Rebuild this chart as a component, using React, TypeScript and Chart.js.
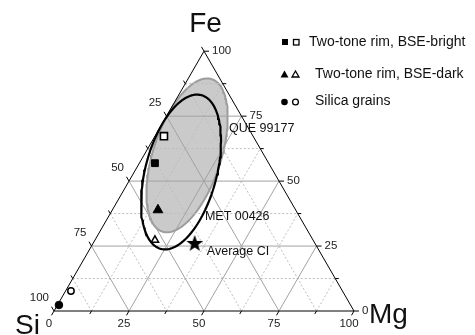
import React, { useEffect, useRef } from 'react';
import { Chart, registerables } from 'chart.js';

Chart.register(...registerables);

const SQ = Math.sqrt(3) / 2;

// Axis tick values (percent)
const MAJOR_TICKS = [0, 25, 50, 75, 100];
const MINOR_TICKS = [12.5, 37.5, 62.5, 87.5];
const TICK_LABELS = ['0', '25', '50', '75', '100'];
const GRID_SOLID = [25, 50, 75];
const GRID_DOTTED = [12.5, 37.5, 62.5, 87.5];

// Compositions: [Fe, Mg, Si] in %
const BRIGHT_FILLED = [[56.9, 5.2, 37.9]];
const BRIGHT_OPEN = [[67.3, 3.0, 29.7]];
const DARK_FILLED = [[38.9, 15.2, 45.9]];
const DARK_OPEN = [[27.3, 20.0, 52.7]];
const SILICA_FILLED = [[2.3, 0.5, 97.2]];
const SILICA_OPEN = [[7.7, 1.8, 90.5]];
const AVERAGE_CI = [[26.2, 33.8, 40.0]];

// Compositional fields: [centre Fe, centre Mg, semi-major, semi-minor, tilt deg]
const QUE_ELLIPSE = [59.9, 14.4, 26.7, 11.3, 72];
const MET_ELLIPSE = [53.5, 15.6, 26.5, 11.9, 75.3];

const ANNOT_LABELS = ['QUE 99177', 'MET 00426', 'Average CI'];
const ANNOT_ANCHORS = [[70.1, 23.3], [36.2, 32.2], [22.7, 39.6]]; // [Fe, Mg]

const LEGEND_LABELS = ['Two-tone rim, BSE-bright', 'Two-tone rim, BSE-dark', 'Silica grains'];

const FONT = '"Liberation Sans", Arial, Helvetica, sans-serif';

function tern(fe: number, mg: number) {
  return { x: mg + fe / 2, y: fe * SQ };
}

function ellipsePoints(e: number[]) {
  const [fe, mg, a, b, ang] = e;
  const c = tern(fe, mg);
  const t = (ang * Math.PI) / 180;
  const pts: { x: number; y: number }[] = [];
  const n = 144;
  for (let i = 0; i <= n; i++) {
    const u = (i / n) * Math.PI * 2;
    const ex = a * Math.cos(u);
    const ey = b * Math.sin(u);
    pts.push({ x: c.x + ex * Math.cos(t) - ey * Math.sin(t), y: c.y + ex * Math.sin(t) + ey * Math.cos(t) });
  }
  return pts;
}

function lineDs(data: { x: number; y: number }[], color: string, width: number, order: number, dash: number[] = []) {
  return {
    type: 'scatter' as const,
    data,
    showLine: true,
    borderColor: color,
    borderWidth: width,
    borderDash: dash,
    pointRadius: 0,
    pointHoverRadius: 0,
    fill: false,
    tension: 0,
    order,
  };
}

function makeStar() {
  const c = document.createElement('canvas');
  c.width = 20;
  c.height = 20;
  const g = c.getContext('2d')!;
  g.fillStyle = '#000';
  g.beginPath();
  const R = 8.8;
  const r = 3.6;
  for (let i = 0; i < 10; i++) {
    const rad = (i * Math.PI) / 5 - Math.PI / 2;
    const rr = i % 2 === 0 ? R : r;
    const px = 10 + rr * Math.cos(rad);
    const py = 10.8 + rr * Math.sin(rad);
    if (i === 0) g.moveTo(px, py);
    else g.lineTo(px, py);
  }
  g.closePath();
  g.fill();
  return c;
}

const textPlugin = {
  id: 'ternaryText',
  afterDatasetsDraw(chart: any) {
    const { ctx } = chart;
    const sx = chart.scales.x;
    const sy = chart.scales.y;
    const px = (fe: number, mg: number) => {
      const p = tern(fe, mg);
      return [sx.getPixelForValue(p.x), sy.getPixelForValue(p.y)];
    };
    ctx.save();
    ctx.fillStyle = '#222';
    ctx.font = `11.5px ${FONT}`;
    ctx.textBaseline = 'middle';
    // Fe axis (right side)
    MAJOR_TICKS.forEach((v, i) => {
      const [X, Y] = px(v, 100 - v);
      ctx.textAlign = 'left';
      ctx.fillText(TICK_LABELS[i], X + 8, Y);
    });
    // Si axis (left side)
    MAJOR_TICKS.forEach((v, i) => {
      if (v === 0) return;
      const [X, Y] = px(100 - v, 0);
      ctx.textAlign = 'right';
      ctx.fillText(TICK_LABELS[i], X - 5, Y - 13);
    });
    // Mg axis (bottom)
    MAJOR_TICKS.forEach((v, i) => {
      const [X, Y] = px(0, v);
      ctx.textAlign = 'center';
      ctx.fillText(TICK_LABELS[i], X - 5, Y + 13);
    });

    // Annotations
    ctx.fillStyle = '#111';
    ctx.font = `12.5px ${FONT}`;
    ctx.textAlign = 'left';
    ANNOT_LABELS.forEach((lab, i) => {
      const [X, Y] = px(ANNOT_ANCHORS[i][0], ANNOT_ANCHORS[i][1]);
      ctx.fillText(lab, X, Y);
    });

    // Apex titles
    ctx.font = `28px ${FONT}`;
    ctx.textBaseline = 'alphabetic';
    ctx.textAlign = 'center';
    ctx.fillText('Fe', 205.5, 32);
    ctx.textAlign = 'left';
    ctx.fillText('Si', 15, 334);
    ctx.fillText('Mg', 369, 323);

    // Legend
    ctx.fillStyle = '#000';
    ctx.strokeStyle = '#000';
    ctx.lineWidth = 1.3;
    // row 1: squares
    ctx.fillRect(282, 39, 6, 6);
    ctx.strokeRect(293.5, 39.5, 5.5, 5.5);
    // row 2: triangles
    ctx.beginPath();
    ctx.moveTo(284.5, 70.5);
    ctx.lineTo(288.5, 77.5);
    ctx.lineTo(280.5, 77.5);
    ctx.closePath();
    ctx.fill();
    ctx.beginPath();
    ctx.moveTo(295.5, 71);
    ctx.lineTo(299, 77);
    ctx.lineTo(292, 77);
    ctx.closePath();
    ctx.stroke();
    // row 3: circles
    ctx.beginPath();
    ctx.arc(284.5, 102, 3.3, 0, Math.PI * 2);
    ctx.fill();
    ctx.beginPath();
    ctx.arc(295.5, 102, 2.9, 0, Math.PI * 2);
    ctx.stroke();

    ctx.font = `14px ${FONT}`;
    ctx.textBaseline = 'middle';
    ctx.textAlign = 'left';
    ctx.fillStyle = '#111';
    ctx.fillText(LEGEND_LABELS[0], 309, 42);
    ctx.fillText(LEGEND_LABELS[1], 315, 74);
    ctx.fillText(LEGEND_LABELS[2], 315, 101);
    ctx.restore();
  },
};

export default function App() {
  const ref = useRef<HTMLCanvasElement>(null);

  useEffect(() => {
    const datasets: any[] = [];

    // Gray field (QUE 99177)
    datasets.push({
      ...lineDs(ellipsePoints(QUE_ELLIPSE), '#9d9d9d', 2, 100),
      fill: 'shape',
      backgroundColor: '#cacaca',
    });

    // Grid lines
    const gridLines = (vals: number[]) => {
      const out: { x: number; y: number }[][] = [];
      vals.forEach((v) => {
        out.push([tern(v, 0), tern(v, 100 - v)]); // constant Fe
        out.push([tern(0, v), tern(100 - v, v)]); // constant Mg
        out.push([tern(100 - v, 0), tern(0, 100 - v)]); // constant Si
      });
      return out;
    };
    gridLines(GRID_DOTTED).forEach((seg) => datasets.push(lineDs(seg, '#bdbdbd', 1, 90, [2, 2])));
    gridLines(GRID_SOLID).forEach((seg) => datasets.push(lineDs(seg, '#a2a2a2', 1, 80)));

    // MET 00426 field
    datasets.push(lineDs(ellipsePoints(MET_ELLIPSE), '#000', 2.2, 70));

    // Triangle frame
    datasets.push(lineDs([tern(0, 0), tern(100, 0), tern(0, 100), tern(0, 0)], '#000', 1, 60));

    // Ticks
    const tl = 5 / 3;
    [...MAJOR_TICKS, ...MINOR_TICKS].forEach((v) => {
      const isMajor = MAJOR_TICKS.includes(v);
      const L = isMajor ? tl : tl * 0.7;
      const fePt = tern(v, 100 - v);
      datasets.push(lineDs([fePt, { x: fePt.x + L, y: fePt.y }], '#000', 1, 60));
      const siPt = tern(100 - v, 0);
      datasets.push(lineDs([siPt, { x: siPt.x - 0.5 * L, y: siPt.y + SQ * L }], '#000', 1, 60));
      const mgPt = tern(0, v);
      datasets.push(lineDs([mgPt, { x: mgPt.x - 0.5 * L, y: mgPt.y - SQ * L }], '#000', 1, 60));
    });

    const pts = (arr: number[][]) => arr.map((c) => tern(c[0], c[1]));
    const star = makeStar();
    datasets.push(
      { data: pts(BRIGHT_FILLED), pointStyle: 'rect', pointRadius: 4.8, backgroundColor: '#000', borderColor: '#000', borderWidth: 1, order: 1 },
      { data: pts(BRIGHT_OPEN), pointStyle: 'rect', pointRadius: 5, backgroundColor: '#fff', borderColor: '#000', borderWidth: 1.6, order: 1 },
      { data: pts(DARK_FILLED), pointStyle: 'triangle', pointRadius: 5.6, backgroundColor: '#000', borderColor: '#000', borderWidth: 1, order: 1 },
      { data: pts(DARK_OPEN), pointStyle: 'triangle', pointRadius: 4.2, backgroundColor: '#fff', borderColor: '#000', borderWidth: 1.5, order: 1 },
      { data: pts(SILICA_FILLED), pointStyle: 'circle', pointRadius: 3.8, backgroundColor: '#000', borderColor: '#000', borderWidth: 1, order: 1 },
      { data: pts(SILICA_OPEN), pointStyle: 'circle', pointRadius: 3.2, backgroundColor: '#fff', borderColor: '#000', borderWidth: 1.5, order: 1 },
      { data: pts(AVERAGE_CI), pointStyle: star, pointRadius: 9, backgroundColor: '#000', borderColor: '#000', order: 1 }
    );

    const chart = new Chart(ref.current as HTMLCanvasElement, {
      type: 'scatter',
      data: { datasets },
      options: {
        responsive: false,
        animation: false,
        devicePixelRatio: 1,
        events: [],
        layout: { padding: 0, autoPadding: false },
        plugins: { legend: { display: false }, tooltip: { enabled: false }, title: { display: false } },
        scales: {
          x: { type: 'linear', min: -18, max: 421 / 3 + 0.0, display: false },
          y: { type: 'linear', min: -8, max: 311 / 3, display: false },
        },
      },
      plugins: [textPlugin],
    } as any);
    return () => chart.destroy();
  }, []);

  return (
    <div style={{ position: 'fixed', left: 0, top: 0, width: 475, height: 335, background: '#fff' }}>
      <canvas ref={ref} width={475} height={335} style={{ display: 'block', width: 475, height: 335 }} />
    </div>
  );
}
